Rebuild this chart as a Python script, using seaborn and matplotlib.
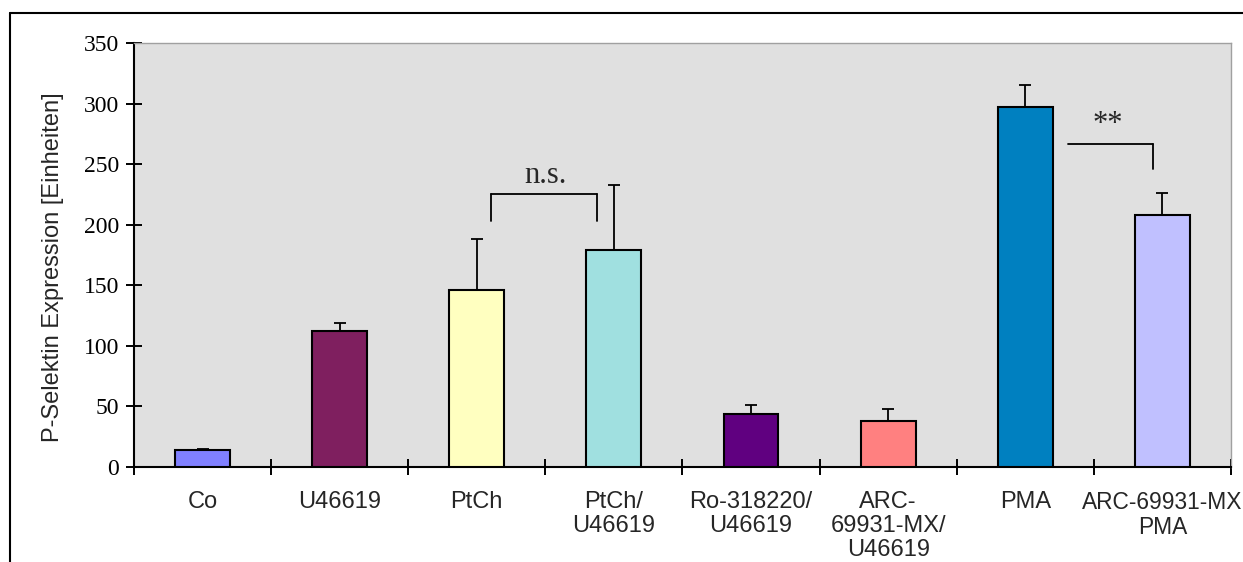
import matplotlib
matplotlib.use("Agg")
import matplotlib.pyplot as plt
from matplotlib.lines import Line2D
import numpy as np
import pandas as pd
import seaborn as sns

# Treatment groups, mean P-selectin expression and upper error (SD)
categories = ["Co", "U46619", "PtCh", "PtCh/\nU46619", "Ro-318220/\nU46619",
              "ARC-\n69931-MX/\nU46619", "PMA", "ARC-69931-MX\nPMA"]
means = [14, 112, 146, 179, 44, 38, 297, 208]
errors = [0.5, 7, 42, 54, 7, 10, 18, 18]
bar_colors = ["#8080FF", "#7F1F5F", "#FFFFC0", "#A0E0E0",
              "#600080", "#FF8080", "#0080C0", "#C0C0FF"]
y_ticks = [0, 50, 100, 150, 200, 250, 300, 350]
y_label = "P-Selektin Expression [Einheiten]"

# Significance brackets: (left x, right x, bar level, drop left, drop right, text, text x, text y)
brackets = [(2.10, 2.88, 225, 203, 203, "n.s.", 2.50, 229),
            (6.31, 6.93, 267, None, 246, "**", 6.60, 271)]

sns.set_style("white")
plt.rcParams["font.family"] = ["Liberation Sans", "DejaVu Sans"]
SERIF = ["Liberation Serif", "DejaVu Serif"]

df = pd.DataFrame({"group": categories, "value": means})

fig = plt.figure(figsize=(12.43, 5.62), dpi=100)
ax = fig.add_axes([0.1078, 0.169, 0.8825, 0.7545])
ax.set_facecolor("#E0E0E0")

sns.barplot(data=df, x="group", y="value", hue="group", palette=bar_colors,
            order=categories, hue_order=categories, legend=False,
            errorbar=None, width=0.4, edgecolor="black", linewidth=1.5,
            saturation=1, ax=ax, zorder=3)

x = np.arange(len(categories))
ax.errorbar(x, means, yerr=[np.zeros(len(errors)), errors], fmt="none",
            ecolor="black", elinewidth=1.3, capsize=4, capthick=1.3, zorder=2)

ax.set_xlim(-0.5, len(categories) - 0.5)
ax.set_ylim(0, 350)
ax.set_yticks(y_ticks)
ax.set_yticklabels([str(v) for v in y_ticks], fontfamily=SERIF, fontsize=17)
ax.tick_params(axis="y", direction="inout", length=11.5, width=1.4, pad=5,
               left=True, colors="black")

# category labels at bar centres, boundary ticks between categories
ax.set_xticks(x)
ax.set_xticklabels(categories, fontsize=17, linespacing=1.12)
ax.get_xticklabels()[-1].set_fontsize(16.4)
ax.tick_params(axis="x", which="major", length=0, pad=17.5)
ax.set_xticks(np.arange(-0.5, len(categories)), minor=True)
ax.tick_params(axis="x", which="minor", direction="inout", length=11.5,
               width=1.4, bottom=True, color="black")

ax.set_xlabel("")
ax.set_ylabel(y_label, fontsize=17)
ax.yaxis.set_label_coords(-0.064, 0.472)

for side in ("left", "bottom"):
    ax.spines[side].set_color("black")
    ax.spines[side].set_linewidth(1.5)
for side in ("top", "right"):
    ax.spines[side].set_color("#A0A0A0")
    ax.spines[side].set_linewidth(1.0)
    ax.spines[side].set_visible(True)

for x0, x1, lvl, d0, d1, txt, tx, ty in brackets:
    ax.plot([x0, x1], [lvl, lvl], color="black", lw=1.3, zorder=4)
    if d0 is not None:
        ax.plot([x0, x0], [lvl, d0], color="black", lw=1.3, zorder=4)
    if d1 is not None:
        ax.plot([x1, x1], [lvl, d1], color="black", lw=1.3, zorder=4)
    ax.text(tx, ty, txt, ha="center", va="bottom", fontsize=22,
            fontfamily=SERIF, zorder=4)

# outer frame around the figure
fig.add_artist(Line2D([0.008, 1.0], [0.977, 0.977], color="black", lw=1.5,
                      transform=fig.transFigure))
fig.add_artist(Line2D([0.008, 0.008], [0.0, 0.977], color="black", lw=1.5,
                      transform=fig.transFigure))

fig.savefig("out.png", dpi=100)
